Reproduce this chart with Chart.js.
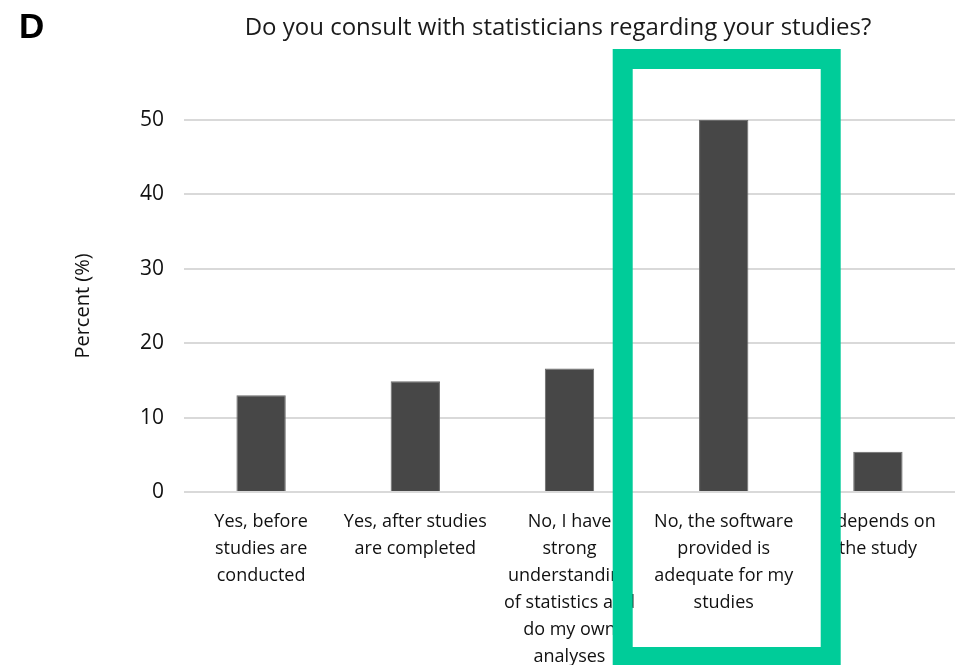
<!DOCTYPE html>
<html>
<head>
<meta charset="utf-8">
<script src="https://cdn.jsdelivr.net/npm/chart.js@4"></script>
<style>
  html, body { margin: 0; padding: 0; background: #fff; }
  #wrap { width: 963px; height: 665px; }
</style>
</head>
<body>
<div id="wrap"><canvas id="bar-chart"></canvas></div>
<script>
// answers (wrapped the way they appear under the bars)
var categories = [
  ["Yes, before", "studies are", "conducted"],
  ["Yes, after studies", "are completed"],
  ["No, I have", "strong", "understanding", "of statistics and", "do my own", "analyses"],
  ["No, the software", "provided is", "adequate for my", "studies"],
  ["It depends on", "the study"]
];
var percents = [13.0, 14.9, 16.6, 50.0, 5.4];
var yTicks = [0, 10, 20, 30, 40, 50];
var highlightIndex = 3;

var FONT = "'Open Sans', sans-serif";

// panel letter, title and the green highlight box
var overlay = {
  id: "overlay",
  afterDraw: function(chart) {
    var ctx = chart.ctx;
    var x = chart.scales.x;
    ctx.save();
    ctx.fillStyle = "#000";
    ctx.font = "bold 35px 'Liberation Sans', Arial, sans-serif";
    ctx.textBaseline = "middle";
    ctx.textAlign = "left";
    ctx.fillText("D", 19, 28);
    ctx.fillStyle = "#1a1a1a";
    ctx.font = "24px " + FONT;
    ctx.textAlign = "center";
    ctx.fillText("Do you consult with statisticians regarding your studies?", 558, 28);

    var cx = x.getPixelForValue(highlightIndex);
    ctx.strokeStyle = "#00cc99";
    ctx.lineWidth = 20;
    ctx.strokeRect(cx - 101, 59, 208, 598);
    ctx.restore();
  }
};

new Chart(document.getElementById("bar-chart"), {
  type: "bar",
  data: {
    labels: categories,
    datasets: [{
      data: percents,
      backgroundColor: "#474747",
      borderColor: "#6a6a6a",
      borderWidth: 1,
      barPercentage: 0.32,
      categoryPercentage: 1.0
    }]
  },
  plugins: [overlay],
  options: {
    responsive: true,
    maintainAspectRatio: false,
    animation: false,
    layout: {
      padding: { left: 0, right: 8, top: 120, bottom: 0 }
    },
    plugins: {
      legend: { display: false },
      tooltip: { enabled: false }
    },
    scales: {
      x: {
        afterFit: function(scale) { scale.height = 173; },
        grid: { display: false },
        border: { display: false },
        ticks: {
          color: "#111",
          font: { family: FONT, size: 18, lineHeight: 1.5 },
          maxRotation: 0,
          autoSkip: false,
          padding: 8
        }
      },
      y: {
        min: 0,
        max: 50,
        afterBuildTicks: function(scale) {
          scale.ticks = yTicks.map(function(v) { return { value: v }; });
        },
        afterFit: function(scale) { scale.width = 184; },
        grid: { color: "#d9d9d9", lineWidth: 2, drawTicks: false },
        border: { display: false },
        ticks: {
          color: "#111",
          font: { family: FONT, size: 21 },
          padding: 20
        },
        title: {
          display: true,
          text: "Percent (%)",
          color: "#111",
          font: { family: FONT, size: 20 },
          padding: { top: 71, bottom: 0 }
        }
      }
    }
  }
});
</script>
</body>
</html>
